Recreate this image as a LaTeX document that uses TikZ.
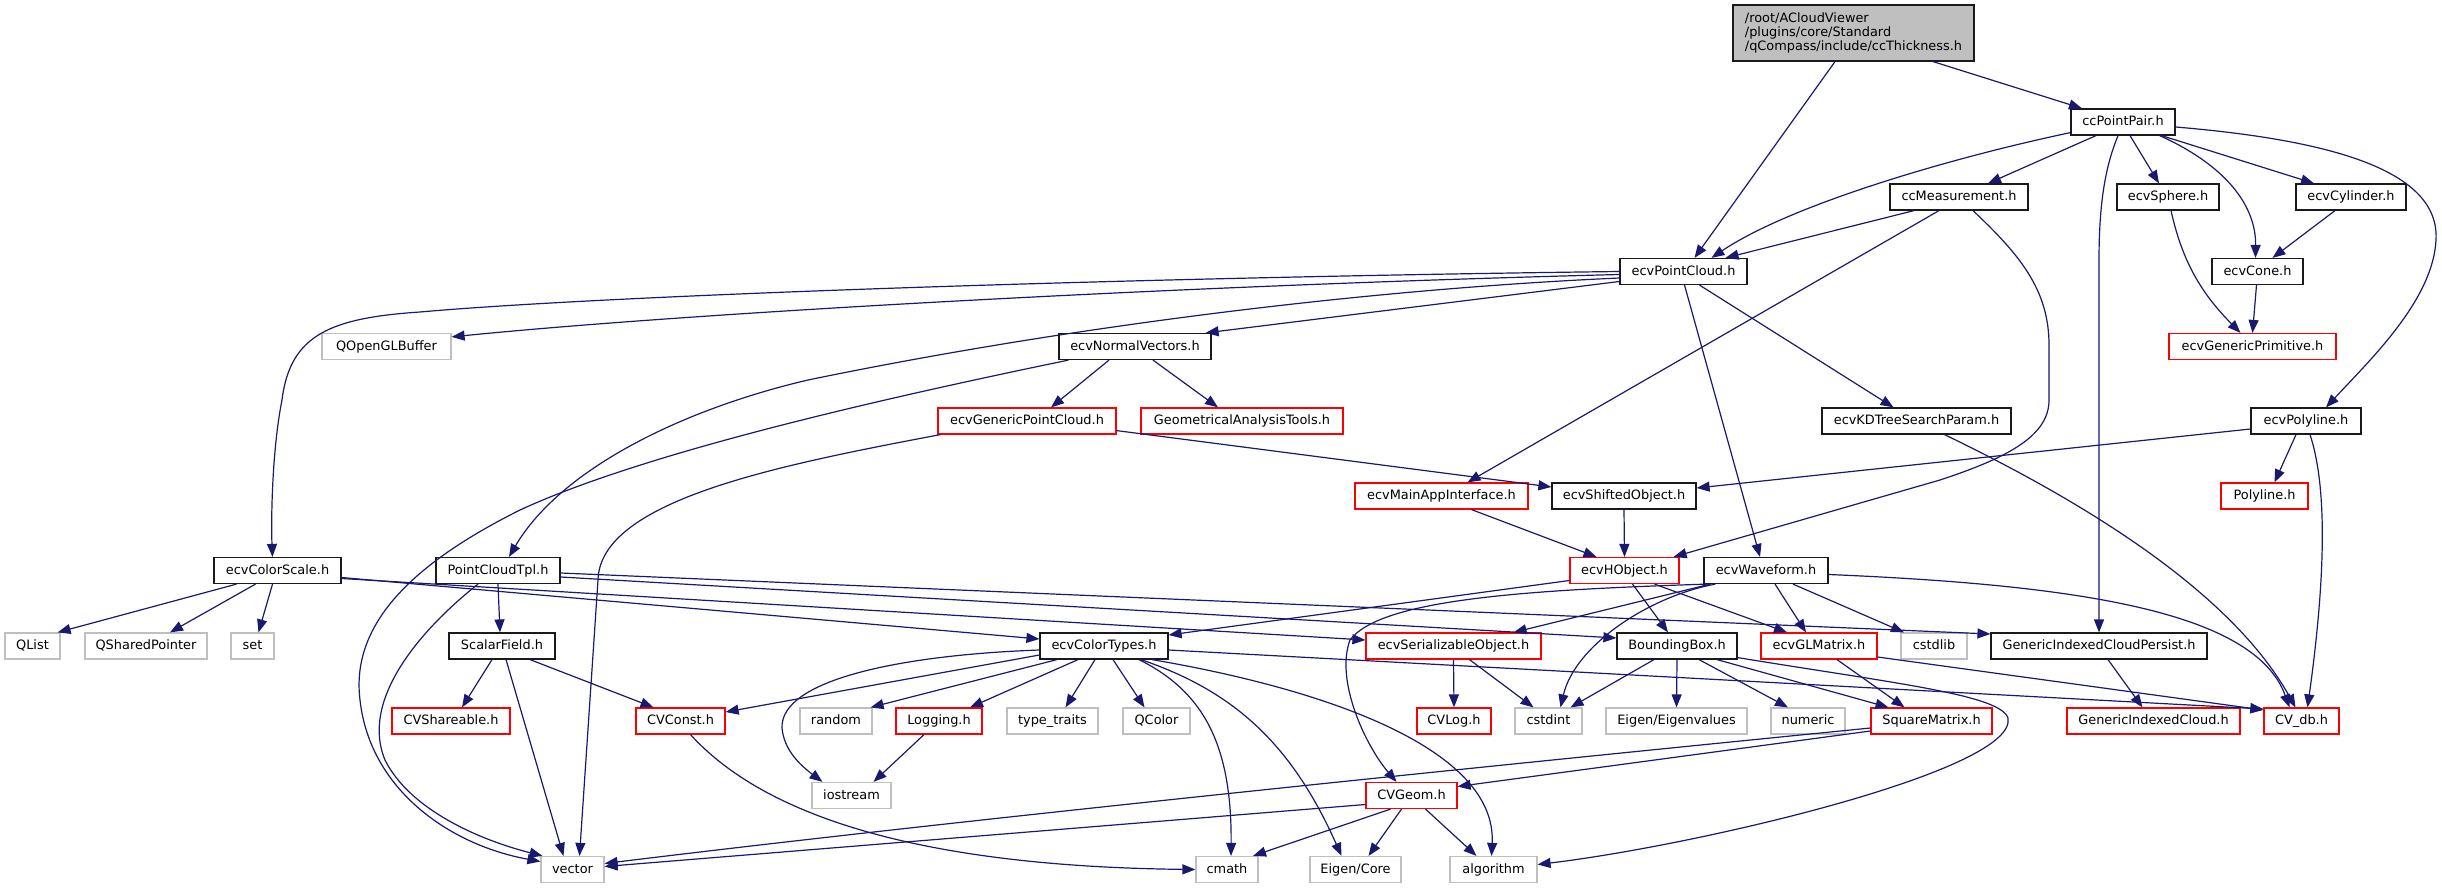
\documentclass[tikz,border=0pt]{standalone}
\usepackage{fontspec}
\setmainfont{DejaVu Sans}
\usetikzlibrary{arrows.meta}
\definecolor{edgec}{HTML}{191970}
\definecolor{grayb}{HTML}{BFBFBF}
\definecolor{redb}{HTML}{FF0000}
\definecolor{blkb}{HTML}{1A1A1A}
\tikzset{
  boxbase/.style={rectangle, inner sep=0pt, line width=1.2pt, font=\fontsize{12.9}{14}\selectfont},
  nd/.style={boxbase, minimum height=26pt, text height=9.6pt, text depth=2.2pt},
  bk/.style={nd, draw=blkb},
  rd/.style={nd, draw=redb},
  gy/.style={nd, draw=grayb},
  ed/.style={draw=edgec, line width=1.2pt, -{Triangle[length=13pt,width=10pt]}},
}
\begin{document}
\begin{tikzpicture}[x=1pt,y=-1pt]
\useasboundingbox (0,0) rectangle (2442,888);
% ---------- nodes ----------
\node[boxbase, draw=blkb, fill=grayb, minimum width=241pt, minimum height=56pt, align=left] (root) at (1853.5,33) {/root/ACloudViewer\\/plugins/core/Standard\\/qCompass/include/ccThickness.h};
\node[bk, minimum width=104pt] (ccpp) at (2123,122) {ccPointPair.h};
\node[bk, minimum width=138pt] (ccmeas) at (1959,197) {ccMeasurement.h};
\node[bk, minimum width=102pt] (sphere) at (2168,197) {ecvSphere.h};
\node[bk, minimum width=110pt] (cyl) at (2351,197) {ecvCylinder.h};
\node[bk, minimum width=127pt] (pcl) at (1683.5,271.5) {ecvPointCloud.h};
\node[bk, minimum width=91pt] (cone) at (2257.5,271.5) {ecvCone.h};
\node[gy, minimum width=129pt] (qogl) at (386.5,346.5) {QOpenGLBuffer};
\node[bk, minimum width=152pt] (normv) at (1135,346.5) {ecvNormalVectors.h};
\node[rd, minimum width=167pt] (genprim) at (2252.5,346.5) {ecvGenericPrimitive.h};
\node[rd, minimum width=178pt] (genpc) at (1027,421) {ecvGenericPointCloud.h};
\node[rd, minimum width=202pt] (gat) at (1242,421) {GeometricalAnalysisTools.h};
\node[bk, minimum width=189pt] (kdt) at (1916.5,421) {ecvKDTreeSearchParam.h};
\node[bk, minimum width=110pt] (epoly) at (2306,421) {ecvPolyline.h};
\node[rd, minimum width=173pt] (mainapp) at (1441.5,496) {ecvMainAppInterface.h};
\node[bk, minimum width=144pt] (shifted) at (1624,496) {ecvShiftedObject.h};
\node[rd, minimum width=87pt] (poly) at (2264.5,496) {Polyline.h};
\node[bk, minimum width=127pt] (cscale) at (277.5,570.5) {ecvColorScale.h};
\node[bk, minimum width=124pt] (pctpl) at (498,570.5) {PointCloudTpl.h};
\node[rd, minimum width=109pt] (hobj) at (1624.5,570.5) {ecvHObject.h};
\node[bk, minimum width=124pt] (wave) at (1766,570.5) {ecvWaveform.h};
\node[gy, minimum width=55pt] (qlist) at (32.5,646) {QList};
\node[gy, minimum width=122pt] (qsp) at (146,646) {QSharedPointer};
\node[gy, minimum width=43pt] (nset) at (252.5,646) {set};
\node[bk, minimum width=106pt] (scalar) at (502,646) {ScalarField.h};
\node[bk, minimum width=128pt] (ctypes) at (1104,646) {ecvColorTypes.h};
\node[rd, minimum width=175pt] (serial) at (1453.5,646) {ecvSerializableObject.h};
\node[bk, minimum width=120pt] (bbox) at (1677,646) {BoundingBox.h};
\node[rd, minimum width=116pt] (glm) at (1819,646) {ecvGLMatrix.h};
\node[gy, minimum width=66pt] (cstdlib) at (1934,646) {cstdlib};
\node[bk, minimum width=216pt] (gicp) at (2099,646) {GenericIndexedCloudPersist.h};
\node[rd, minimum width=118pt] (cvshare) at (451,721) {CVShareable.h};
\node[rd, minimum width=89pt] (cvconst) at (680.5,721) {CVConst.h};
\node[gy, minimum width=72pt] (random) at (836,721) {random};
\node[rd, minimum width=86pt] (logging) at (939,721) {Logging.h};
\node[gy, minimum width=91pt] (typetr) at (1052.5,721) {type\_traits};
\node[gy, minimum width=67pt] (qcolor) at (1156.5,721) {QColor};
\node[rd, minimum width=74pt] (cvlog) at (1454,721) {CVLog.h};
\node[gy, minimum width=67pt] (cstdint) at (1548.5,721) {cstdint};
\node[gy, minimum width=141pt] (eigval) at (1676.5,721) {Eigen/Eigenvalues};
\node[gy, minimum width=74pt] (numeric) at (1808,721) {numeric};
\node[rd, minimum width=121pt] (sqm) at (1931.5,721) {SquareMatrix.h};
\node[rd, minimum width=173pt] (gic) at (2153.5,721) {GenericIndexedCloud.h};
\node[rd, minimum width=75pt] (cvdb) at (2301.5,721) {CV\_db.h};
\node[gy, minimum width=79pt] (iostream) at (851.5,795.5) {iostream};
\node[rd, minimum width=91pt] (cvgeom) at (1411.5,795.5) {CVGeom.h};
\node[gy, minimum width=63pt] (vector) at (572.5,869.5) {vector};
\node[gy, minimum width=62pt] (cmath) at (1227,869.5) {cmath};
\node[gy, minimum width=91pt] (eigcore) at (1355.5,869.5) {Eigen/Core};
\node[gy, minimum width=87pt] (algo) at (1493.5,869.5) {algorithm};
% ---------- edges ----------
\draw[ed] ([xshift=-18.5]root.south) -- ([xshift=11]pcl.north);
\draw[ed] ([xshift=79.5]root.south) -- ([xshift=-41]ccpp.north);
\draw[ed] ([yshift=3]ccpp.south west) .. controls (1950,158) and (1790,205) .. ([xshift=28]pcl.north);
\draw[ed] ([xshift=-27]ccpp.south) -- ([xshift=29]ccmeas.north);
\draw[ed] ([xshift=7]ccpp.south) -- ([xshift=-9]sphere.north);
\draw[ed] ([xshift=-16]ccpp.south east) .. controls (2225,165) and (2256,205) .. ([xshift=-2]cone.north);
\draw[ed] ([xshift=-14]ccpp.south east) -- ([xshift=-37]cyl.north);
\draw[ed] ([xshift=-5]ccpp.south) .. controls (2106,165) and (2099,200) .. (2099,260) -- (gicp.north);
\draw[ed] ([yshift=-5]ccpp.east) .. controls (2330,140) and (2440,170) .. (2436,240) .. controls (2433,300) and (2370,360) .. ([xshift=20]epoly.north);
\draw[ed] ([xshift=-45]ccmeas.south) -- ([xshift=42]pcl.north);
\draw[ed] ([xshift=-20]ccmeas.south) -- ([xshift=26]mainapp.north);
\draw[ed] ([xshift=14]ccmeas.south) .. controls (2020,255) and (2049,290) .. (2049,345) -- (2049,400) .. controls (2049,435) and (2010,457) .. (1940,480) -- ([xshift=-6]hobj.north east);
\draw[ed] ([xshift=3]sphere.south) .. controls (2182,260) and (2200,292) .. ([xshift=-12]genprim.north);
\draw[ed] ([xshift=-16]cyl.south) -- ([xshift=15]cone.north);
\draw[ed] ([xshift=-1]cone.south) -- (genprim.north);
% from ecvPointCloud
\draw[ed] ([yshift=-3]pcl.west) .. controls (1200,285) and (700,312) .. ([yshift=-4]qogl.north east);
\draw[ed] (pcl.west) .. controls (1100,278) and (600,296) .. (420,312) .. controls (330,318) and (290,335) .. (282,400) .. controls (272,450) and (271,520) .. ([xshift=-5]cscale.north);
\draw[ed] ([yshift=-10]pcl.west) -- ([xshift=-6]normv.north east);
\draw[ed] ([yshift=-6.5]pcl.west) .. controls (1350,290) and (1050,330) .. (808,380) .. controls (680,410) and (560,470) .. ([xshift=11]pctpl.north);
\draw[ed] ([xshift=1]pcl.south) -- ([xshift=-6]wave.north);
\draw[ed] ([xshift=16]pcl.south) -- ([xshift=-23]kdt.north);
% from ecvNormalVectors
\draw[ed] ([xshift=-26]normv.south) -- ([xshift=24]genpc.north);
\draw[ed] ([xshift=18]normv.south) -- ([xshift=-24]gat.north);
\draw[ed] ([xshift=10]normv.south west) .. controls (900,395) and (650,450) .. (520,510) .. controls (420,560) and (350,620) .. (360,700) .. controls (370,790) and (450,845) .. ([yshift=8]vector.west);
% from ecvGenericPointCloud
\draw[ed] ([xshift=3]genpc.south west) .. controls (780,465) and (600,500) .. (598,580) -- ([xshift=7]vector.north);
\draw[ed] ([yshift=4]genpc.south east) -- ([yshift=9]shifted.west);
% KDTree, Polyline
\draw[ed] ([xshift=28]kdt.south) .. controls (2080,500) and (2230,590) .. ([xshift=-6]cvdb.north);
\draw[ed] ([yshift=-8]epoly.west) -- ([yshift=8]shifted.east);
\draw[ed] ([xshift=-10]epoly.south) -- ([xshift=10]poly.north);
\draw[ed] ([xshift=4]epoly.south) .. controls (2325,480) and (2328,560) .. ([xshift=6]cvdb.north);
% to ecvHObject
\draw[ed] ([xshift=30]mainapp.south) -- ([xshift=-28]hobj.north);
\draw[ed] (shifted.south) -- (hobj.north);
% from ecvColorScale
\draw[ed] ([xshift=-41]cscale.south) -- ([xshift=-3]qlist.north east);
\draw[ed] ([xshift=-22]cscale.south) -- ([xshift=24]qsp.north);
\draw[ed] ([xshift=-5]cscale.south) -- ([xshift=6]nset.north);
\draw[ed] ([yshift=-7]cscale.east) -- ([yshift=7]ctypes.west);
\draw[ed] ([yshift=-8]cscale.east) -- ([yshift=6]serial.west);
% from PointCloudTpl
\draw[ed] (pctpl.south) -- ([xshift=-2]scalar.north);
\draw[ed] ([xshift=-20]pctpl.south) .. controls (420,630) and (360,700) .. (385,760) .. controls (410,810) and (480,840) .. ([xshift=-30]vector.north);
\draw[ed] ([yshift=-2.5]pctpl.east) -- ([yshift=12]gicp.west);
\draw[ed] ([yshift=-6.5]pctpl.east) -- ([yshift=8]bbox.west);
% from ScalarField
\draw[ed] ([xshift=-10]scalar.south) -- ([xshift=11]cvshare.north);
\draw[ed] ([xshift=28]scalar.south) -- ([xshift=-27]cvconst.north);
\draw[ed] ([xshift=4]scalar.south) -- ([xshift=-9]vector.north);
% from ecvColorTypes
\draw[ed] ([yshift=-9]ctypes.west) -- ([yshift=9]cvconst.east);
\draw[ed] ([yshift=-4]ctypes.west) .. controls (900,655) and (780,680) .. (782,728) .. controls (784,750) and (800,765) .. ([xshift=-29]iostream.north);
\draw[ed] ([xshift=-47]ctypes.south) -- ([xshift=-2]random.north east);
\draw[ed] ([xshift=-26]ctypes.south) -- ([xshift=31]logging.north);
\draw[ed] ([xshift=-9]ctypes.south) -- ([xshift=13]typetr.north);
\draw[ed] ([xshift=9]ctypes.south) -- ([xshift=-12]qcolor.north);
\draw[ed] ([xshift=35]ctypes.south) .. controls (1200,690) and (1232,740) .. ([xshift=4]cmath.north);
\draw[ed] ([xshift=37]ctypes.south) .. controls (1230,690) and (1290,740) .. ([xshift=-14]eigcore.north);
\draw[ed] ([xshift=48]ctypes.south) .. controls (1330,690) and (1497,750) .. ([xshift=-2]algo.north);
\draw[ed] ([yshift=-4]ctypes.east) -- ([yshift=12]cvdb.west);
% others
\draw[ed] ([xshift=-15]logging.south) -- ([xshift=22]iostream.north);
\draw[ed] ([xshift=10]cvconst.south) .. controls (750,800) and (880,866) .. (cmath.west);
\draw[ed] (serial.south) -- (cvlog.north);
\draw[ed] ([xshift=16]serial.south) -- ([xshift=-15]cstdint.north);
\draw[ed] ([xshift=-23]bbox.south) -- ([xshift=22]cstdint.north);
\draw[ed] (bbox.south) -- (eigval.north);
\draw[ed] ([xshift=22]bbox.south) -- ([xshift=-20]numeric.north);
\draw[ed] ([xshift=40]bbox.south) -- ([xshift=-43]sqm.north);
\draw[ed] ([yshift=2]bbox.south east) .. controls (1900,684) and (2000,695) .. (2008,718) .. controls (2018,770) and (1700,845) .. ([yshift=5]algo.east);
\draw[ed] ([xshift=18]glm.south) -- ([xshift=-27]sqm.north);
\draw[ed] ([yshift=-11]glm.east) -- ([yshift=11]cvdb.west);
\draw[ed] ([yshift=-10]sqm.west) -- ([yshift=9]cvgeom.east);
\draw[ed] ([yshift=-7]sqm.west) .. controls (1600,755) and (1000,815) .. ([yshift=6]vector.east);
\draw[ed] ([yshift=-9]cvgeom.west) -- ([yshift=3]vector.east);
\draw[ed] ([xshift=-21]cvgeom.south) -- ([xshift=26]cmath.north);
\draw[ed] ([xshift=-10]cvgeom.south) -- ([xshift=13]eigcore.north);
\draw[ed] ([xshift=14]cvgeom.south) -- ([xshift=-17]algo.north);
\draw[ed] ([xshift=9]gicp.south) -- ([xshift=-11]gic.north);
% from ecvHObject
\draw[ed] ([yshift=-10]hobj.west) -- ([yshift=11]ctypes.east);
\draw[ed] ([xshift=8]hobj.south) -- ([xshift=-9]bbox.north);
\draw[ed] ([xshift=30]hobj.south) -- ([xshift=-32]glm.north);
% from ecvWaveform
\draw[ed] ([xshift=7]wave.south west) -- ([xshift=-28]serial.north east);
\draw[ed] ([xshift=4]wave.south west) .. controls (1520,590) and (1380,600) .. (1350,640) .. controls (1335,680) and (1365,745) .. ([xshift=-15]cvgeom.north);
\draw[ed] ([xshift=12]wave.south west) .. controls (1650,596) and (1575,645) .. ([xshift=12]cstdint.north);
\draw[ed] ([xshift=9]wave.south) -- ([xshift=-13]glm.north);
\draw[ed] ([xshift=27]wave.south) -- ([xshift=-30]cstdlib.north);
\draw[ed] ([yshift=-4]wave.east) .. controls (2080,585) and (2255,612) .. ([xshift=-12]cvdb.north);
\end{tikzpicture}
\end{document}
